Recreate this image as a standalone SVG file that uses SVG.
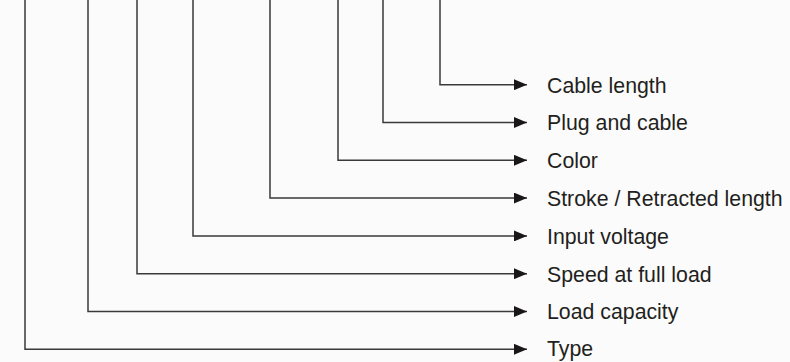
<svg xmlns="http://www.w3.org/2000/svg" width="790" height="362" viewBox="0 0 790 362">
<defs>
<style>
.c{fill:none;stroke:#3a3a3a;stroke-width:1.5}
.a{fill:#1a1718}
.t{font-family:"Liberation Sans",Arial,sans-serif;font-size:21.3px;fill:#231f20}
</style>
<marker id="ah" markerWidth="13" markerHeight="11" refX="13" refY="5.5" orient="auto" markerUnits="userSpaceOnUse"><path d="M0,0 L13,5.5 L0,11 Z" class="a"/></marker>
</defs>
<rect width="790" height="362" fill="#fbfbfb"/>
<g id="connectors">
<path class="c" d="M440,0 V84.7 H527" marker-end="url(#ah)"/>
<path class="c" d="M383,0 V122.5 H527" marker-end="url(#ah)"/>
<path class="c" d="M338,0 V160.3 H527" marker-end="url(#ah)"/>
<path class="c" d="M270,0 V198.1 H527" marker-end="url(#ah)"/>
<path class="c" d="M193,0 V235.9 H527" marker-end="url(#ah)"/>
<path class="c" d="M137,0 V273.7 H527" marker-end="url(#ah)"/>
<path class="c" d="M88,0 V311.5 H527" marker-end="url(#ah)"/>
<path class="c" d="M25,0 V349.3 H527" marker-end="url(#ah)"/>
</g>
<g id="cable-length"><text class="t" x="547" y="92.5">Cable length</text></g>
<g id="plug-and-cable"><text class="t" x="547" y="130.3">Plug and cable</text></g>
<g id="color"><text class="t" x="547" y="168.1">Color</text></g>
<g id="stroke"><text class="t" x="547" y="205.9">Stroke / Retracted length</text></g>
<g id="input-voltage"><text class="t" x="547" y="243.7">Input voltage</text></g>
<g id="speed"><text class="t" x="547" y="281.5">Speed at full load</text></g>
<g id="load-capacity"><text class="t" x="547" y="319.3">Load capacity</text></g>
<g id="type"><text class="t" x="547" y="356">Type</text></g>
</svg>
